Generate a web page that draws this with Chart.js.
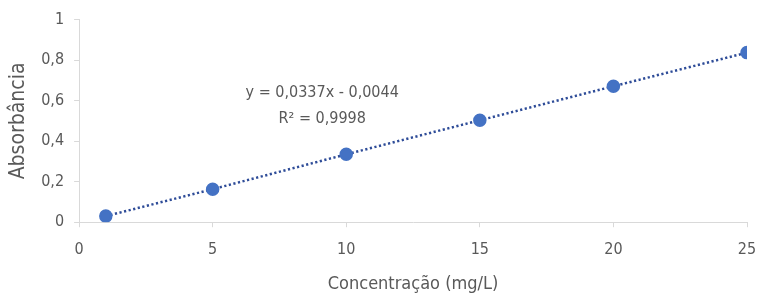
<!DOCTYPE html>
<html>
<head>
<meta charset="utf-8">
<script src="https://cdn.jsdelivr.net/npm/chart.js@4/dist/chart.umd.min.js"></script>
<style>
  html, body { margin: 0; padding: 0; background: #fff; }
  #wrap { width: 758px; height: 299px; }
</style>
</head>
<body>
<div id="wrap"><canvas id="curva"></canvas></div>
<script>
// concentrations (mg/L) and measured absorbance
const concentracao = [1, 5, 10, 15, 20, 25];
const absorbancia = [0.03, 0.163, 0.335, 0.503, 0.671, 0.837];
const xTicks = [0, 5, 10, 15, 20, 25];
const yTicks = [0, 0.2, 0.4, 0.6, 0.8, 1];
const equacao = ['y = 0,0337x - 0,0044', 'R² = 0,9998'];

const fontFam = "'DejaVu Sans Condensed', 'Open Sans', sans-serif";
const grey = '#595959';

// draws the regression label inside the plot
const labelPlugin = {
    id: 'equationLabel',
    afterDatasetsDraw(chart) {
        const { ctx, scales } = chart;
        const cx = scales.x.getPixelForValue(9.1);
        const y1 = scales.y.getPixelForValue(0.639);
        ctx.save();
        ctx.fillStyle = grey;
        ctx.font = '16px ' + fontFam;
        ctx.textAlign = 'center';
        ctx.textBaseline = 'middle';
        ctx.fillText(equacao[0], cx, y1);
        ctx.fillText(equacao[1], cx, y1 + 26);
        ctx.restore();
    }
};

const points = concentracao.map((c, i) => ({ x: c, y: absorbancia[i] }));

new Chart(document.getElementById('curva'), {
    type: 'scatter',
    data: {
        datasets: [{
            data: points,
            showLine: true,
            borderColor: '#2E4C98',
            borderWidth: 2.5,
            borderDash: [2.2, 2.5],
            pointBackgroundColor: '#4472C4',
            pointBorderColor: '#4472C4',
            pointRadius: 5.5,
            pointHoverRadius: 5.5
        }]
    },
    options: {
        responsive: true,
        maintainAspectRatio: false,
        animation: false,
        layout: { padding: { top: 13, right: 0, left: 6, bottom: 0 } },
        plugins: {
            legend: { display: false },
            tooltip: { enabled: false }
        },
        scales: {
            x: {
                type: 'linear',
                min: 0,
                max: 25,
                afterBuildTicks: axis => { axis.ticks = xTicks.map(v => ({ value: v })); },
                // keep the last tick label's overhang small, like the original
                afterFit: axis => { axis.paddingRight = 11; },
                grid: { drawOnChartArea: false, color: '#d9d9d9', tickLength: 5 },
                border: { color: '#d9d9d9' },
                ticks: { color: grey, font: { size: 16, family: fontFam }, padding: 13 },
                title: { display: true, text: 'Concentração (mg/L)', color: grey, font: { size: 18, family: fontFam }, padding: { top: 1, bottom: 4 } }
            },
            y: {
                min: 0,
                max: 1,
                afterBuildTicks: axis => { axis.ticks = yTicks.map(v => ({ value: v })); },
                grid: { drawOnChartArea: false, color: '#d9d9d9', tickLength: 5 },
                border: { color: '#d9d9d9' },
                ticks: {
                    color: grey,
                    font: { size: 16, family: fontFam },
                    padding: 10,
                    callback: v => String(v).replace('.', ',')
                },
                title: { display: true, text: 'Absorbância', color: grey, font: { size: 21, family: fontFam }, padding: { top: 0, bottom: 0 } }
            }
        }
    },
    plugins: [labelPlugin]
});
</script>
</body>
</html>
